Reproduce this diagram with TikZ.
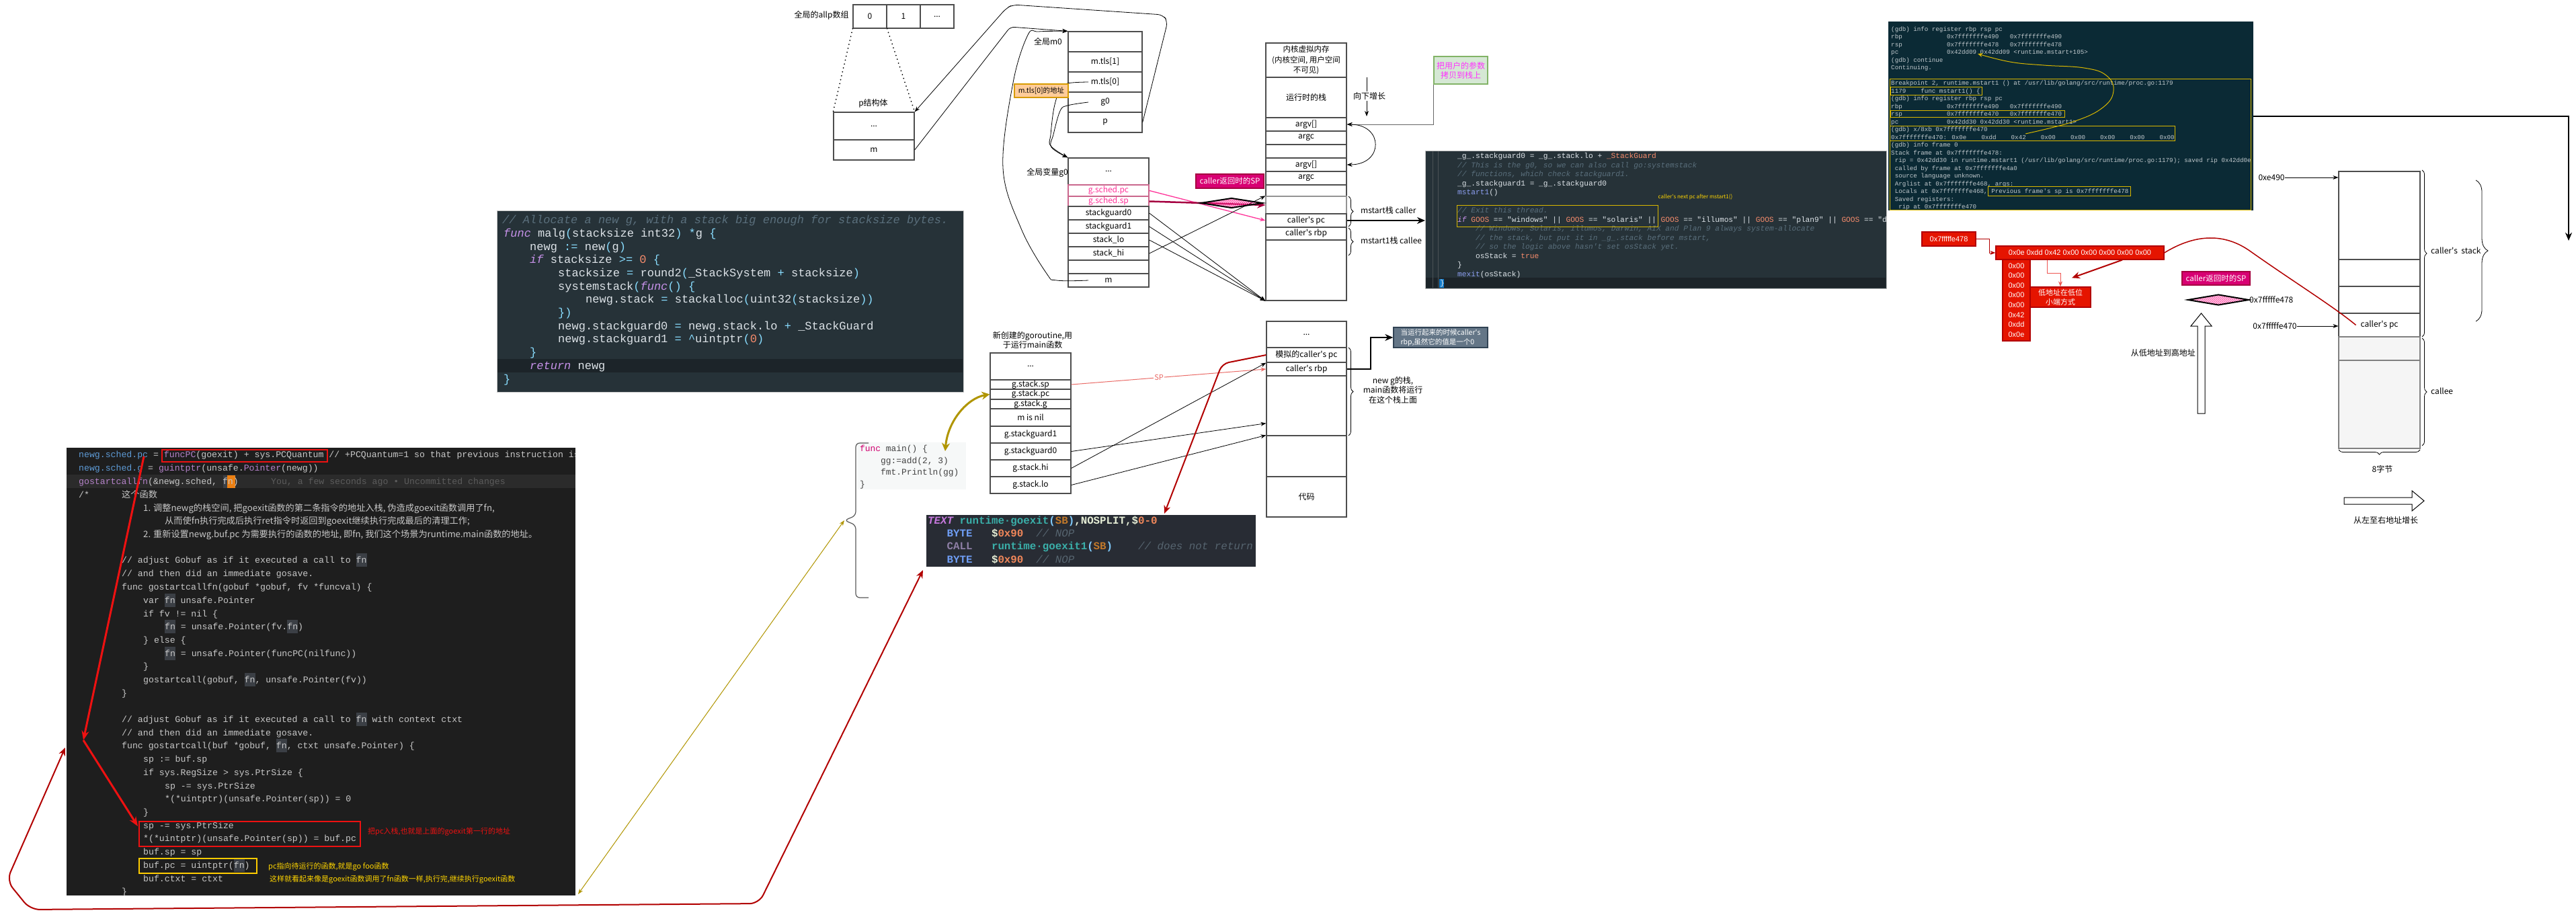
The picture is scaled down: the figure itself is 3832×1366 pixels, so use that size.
\documentclass[tikz,border=0pt]{standalone}
\usepackage{fontspec}
\setmainfont{Noto Sans CJK SC}
\newfontfamily\cjk{Noto Sans CJK SC}
\newfontfamily\codefont{Liberation Mono}
\newfontfamily\hsans{Liberation Sans}
\usetikzlibrary{shapes.geometric,decorations.pathreplacing,patterns,calc,arrows.meta}
\definecolor{cellgray}{HTML}{4D4D4D}
\definecolor{pinkA}{HTML}{FF3399}
\definecolor{magbox}{HTML}{D80073}
\definecolor{magdark}{HTML}{A50040}
\definecolor{darkred}{HTML}{B20000}
\definecolor{redbox}{HTML}{E51400}
\definecolor{brightred}{HTML}{EE1111}
\definecolor{olivec}{HTML}{B09500}
\definecolor{lightred}{HTML}{EA6B66}
\definecolor{orfill}{HTML}{FFCC99}
\definecolor{ordraw}{HTML}{D79B00}
\definecolor{grfill}{HTML}{D5E8D4}
\definecolor{grdraw}{HTML}{82B366}
\definecolor{greentx}{HTML}{FF33FF}
\definecolor{slatef}{HTML}{647687}
\definecolor{slated}{HTML}{314354}
\definecolor{matbg}{HTML}{263238}
\definecolor{matbg2}{HTML}{1C2429}
\definecolor{mtext}{HTML}{DDE3E8}
\definecolor{mcom}{HTML}{5A6F7C}
\definecolor{mpurp}{HTML}{C792EA}
\definecolor{mcyan}{HTML}{89DDFF}
\definecolor{morng}{HTML}{F78C6C}
\definecolor{mblue}{HTML}{8C9EF0}
\definecolor{termbg}{HTML}{0B2A35}
\definecolor{termfg}{HTML}{C0C8CC}
\definecolor{termyel}{HTML}{D9B700}
\definecolor{codebg}{HTML}{1E1E1E}
\definecolor{codehl}{HTML}{2B2B2B}
\definecolor{cfg}{HTML}{C8C8C8}
\definecolor{cblue}{HTML}{5E9BD6}
\definecolor{cpurp}{HTML}{B482C8}
\definecolor{cgray}{HTML}{5C5C5C}
\definecolor{fnhl}{HTML}{3B3F45}
\definecolor{atombg}{HTML}{282C34}
\definecolor{apurp}{HTML}{C678DD}
\definecolor{ateal}{HTML}{3AAFA9}
\definecolor{abrown}{HTML}{C0782A}
\definecolor{aparen}{HTML}{7FC8F8}
\definecolor{awhite}{HTML}{E6EED6}
\definecolor{aorng}{HTML}{F0875A}
\definecolor{ablue}{HTML}{6F9EF5}
\definecolor{acom}{HTML}{56646F}
\definecolor{acall}{HTML}{8E7FA6}
\definecolor{yelt}{HTML}{FFD500}
\definecolor{gfill}{HTML}{F5F5F5}
\definecolor{mainbg}{HTML}{F6F8F8}
\definecolor{mainfn}{HTML}{D0006F}
\definecolor{maintx}{HTML}{444444}
\tikzset{
  cellst/.style={draw=cellgray, line width=1.3pt, inner sep=0pt, align=center, font=\fontsize{12}{14}\selectfont},
  lbl/.style={inner sep=0pt, align=center, font=\fontsize{12}{14.5}\selectfont},
  arr/.style={-{Stealth[length=8pt,width=6pt]}},
  conn/.style={line width=0.8pt, -{Stealth[length=8pt,width=6pt]}},
  bigarr/.style={-{Stealth[length=12pt,width=10pt]}},
  bracest/.style={decorate, decoration={brace, amplitude=7pt}, line width=0.8pt},
  redlbl/.style={draw=darkred, fill=redbox, text=white, inner sep=0pt, align=center, font=\hsans\fontsize{11}{14.6}\selectfont},
  magbx/.style={draw=magdark, fill=magbox, text=white, inner sep=0pt, font=\fontsize{11.5}{14}\selectfont},
  diam/.style={shape=diamond, draw=black, line width=2pt, pattern=crosshatch, pattern color=pinkA, inner sep=0pt, minimum width=92pt, minimum height=15pt},
  ybox/.style={draw=termyel, line width=1pt},
  dotln/.style={line width=2pt, dash pattern=on 0pt off 6pt, line cap=round},
}
\newcommand\cell[7][]{\node[cellst,minimum width={(#5)-(#3)},minimum height={(#6)-(#4)},#1] (#2) at ({((#3)+(#5))/2},{((#4)+(#6))/2}) {#7};}
\newcommand\frm[6][]{\node[draw,inner sep=0pt,minimum width={(#5)-(#3)},minimum height={(#6)-(#4)},anchor=north west,#1] (#2) at (#3,#4) {};}
\newcounter{clc}
\newcommand\cln[3]{\stepcounter{clc}\node[anchor=base west,inner sep=0pt] (cl\arabic{clc}) at (#1,#2) {#3};}
\newcommand\tcol[2]{\textcolor{#1}{#2}}
\newcommand\fnh[1]{{\fboxsep=0pt\colorbox{fnhl}{\strut#1}}}
\newcommand\ap{\textquotesingle}
\begin{document}
\begin{tikzpicture}[x=1pt,y=-1pt]
\fill[white] (0,0) rectangle (3832,1366);
\useasboundingbox (0,0) rectangle (3832,1366);
% ---------------- allp / p ----------------
\node[lbl] (alabel) at (1222,23) {全局的allp数组};
\cell{a0}{1269}{7}{1319}{42}{0}
\cell{a1}{1319}{7}{1369}{42}{1}
\cell{a2}{1369}{7}{1419}{42}{...}
\node[lbl] (plabel) at (1299,154) {p结构体};
\cell{p1}{1240}{167}{1360}{208}{...}
\cell{p2}{1240}{208}{1360}{238}{m}
\draw[dotln] (a0.south west) -- (p1.north west);
\draw[dotln] (a0.south east) -- (p1.north east);
% ---------------- m0 ----------------
\node[lbl] (m0label) at (1559,62) {全局m0};
\cell{m0a}{1589}{47}{1699}{77}{}
\cell{m0b}{1589}{77}{1699}{107}{m.tls[1]}
\cell{m0c}{1589}{107}{1699}{137}{m.tls[0]}
\cell{m0d}{1589}{137}{1699}{167}{g0}
\cell{m0e}{1589}{167}{1699}{197}{p}
% ---------------- g0 ----------------
\node[lbl] (g0label) at (1558,257) {全局变量g0};
\cell{g0a}{1589}{235}{1709}{275}{...}
\cell[draw=magdark!60, text=pinkA]{g0b}{1589}{275}{1709}{292}{g.sched.pc}
\cell[draw=magdark!60, text=pinkA]{g0c}{1589}{292}{1709}{307}{g.sched.sp}
\cell{g0d}{1589}{307}{1709}{327}{stackguard0}
\cell{g0e}{1589}{327}{1709}{347}{stackguard1}
\cell{g0f}{1589}{347}{1709}{367}{stack\_lo}
\cell{g0g}{1589}{367}{1709}{387}{stack\_hi}
\cell{g0h}{1589}{387}{1709}{407}{}
\cell{g0i}{1589}{407}{1709}{427}{m}
% connectors among allp/m0/g0
\draw[conn, rounded corners=6pt] (p2.east) -- (1503,40) -- (m0a.north west);
\draw[conn, rounded corners=8pt] (m0e.east) -- (1737,32) -- (1730,22) -- (1507,7) -- (1497,12) -- (p1.north east);
\coordinate (c0) at ([xshift=-30pt]g0i.center);
\coordinate (c1) at ([xshift=-25pt]m0c.center);
\coordinate (c2) at ([xshift=-25pt]m0d.center);
\draw[conn] plot[smooth, tension=0.6] coordinates {(c0) (1572,417) (1557,407) (1519,340) (1492,250) (1507,123) (1529,52) (1545,47) (m0a.north west)};
\draw[conn] plot[smooth, tension=0.6] coordinates {(c1) (1588,124) (1577,133) (1568,160) (1563,200) (1563,217) (g0a.north west)};
\draw[conn] plot[smooth, tension=0.6] coordinates {(c2) (1588,157) (1577,165) (1567,200) (1564,219) (g0a.north west)};
\cell[draw=ordraw, fill=orfill, font=\fontsize{10.5}{12}\selectfont]{tls}{1509}{125}{1589}{145}{m.tls[0]的地址}
% ---------------- kernel stack ----------------
\cell[font=\fontsize{11.5}{15.5}\selectfont]{k0}{1883}{64}{2003}{115}{内核虚拟内存\\(内核空间, 用户空间\\不可见)}
\cell{k1}{1883}{115}{2003}{175}{运行时的栈}
\cell{k2}{1883}{175}{2003}{195}{argv[]}
\cell{k3}{1883}{195}{2003}{215}{argc}
\cell{k4}{1883}{215}{2003}{235}{}
\cell{k5}{1883}{235}{2003}{255}{argv[]}
\cell{k6}{1883}{255}{2003}{275}{argc}
\cell{k7}{1883}{275}{2003}{292}{}
\cell[draw=cellgray!60]{k8}{1883}{292}{2003}{318}{}
\cell{k9}{1883}{318}{2003}{338}{caller\ap s pc}
\cell{k10}{1883}{338}{2003}{357}{caller\ap s rbp}
\cell{k11}{1883}{357}{2003}{447}{}
\coordinate (gr1) at (2033,115);
\coordinate (gr2) at (2033,173);
\draw[conn] (gr1) -- (gr2);
\node[lbl, fill=white, inner sep=1pt] (grl) at (2037,143) {向下增长};
\cell[draw=grdraw, fill=grfill, text=greentx]{gbox}{2133}{84}{2213}{125}{把用户的参数\\拷贝到栈上}
\draw[conn, draw=gray!80!black] (gbox.south west) |- (k2.east);
\draw[line width=0.8pt, {Stealth[length=8pt,width=6pt]}-{Stealth[length=8pt,width=6pt]}] (k2.east) .. controls +(55,0) and +(55,0) .. (k5.east);
\cell[magbx]{sp1}{1779}{259}{1880}{280}{caller返回时的SP}
\draw[line width=1.3pt, pinkA, arr] (g0b.east) -- (k9.west);
\draw[line width=2.5pt, magdark, bigarr] (g0c.east) -- (k8.west);
\draw[conn] (g0g.east) -- (k8.north west);
\draw[conn] (g0d.east) -- (k11.south west);
\draw[conn] (g0e.east) -- (k11.south west);
\draw[conn] (g0f.east) -- (k11.south west);
\node[diam] (dia1) at (1832,302) {};
\draw[bracest] (2006,292) -- (2006,337);
\node[lbl, anchor=west, fill=white, inner sep=1pt] (mcl) at (2023,313) {mstart栈 caller};
\draw[bracest] (2006,339) -- (2006,380);
\node[lbl, anchor=west, fill=white, inner sep=1pt] (mcl2) at (2023,358) {mstart1栈 callee};
% ---------------- right code block ----------------
\node[fill=matbg, draw=gray!50, inner sep=0pt, minimum width=686, minimum height=205, anchor=north west] (rc) at (2120,224) {};
\fill[matbg2] (2121,413) rectangle (2805,428);
\draw[gray!40!matbg, line width=0.6pt] (2131,225) -- (2131,428);
\draw[gray!40!matbg, line width=0.6pt] (2139,225) -- (2139,428);
\fill[cyan!60!blue] (2141,415) rectangle (2148,428);
\draw[line width=2pt, bigarr] (k9.east) -- (k9.east -| rc.west);
\begin{scope}
\clip (2120,224) rectangle (2806,429);
\begin{scope}[nodes={font=\codefont\fontsize{11.2}{13.5}\selectfont, text=mtext}]
\cln{2168}{235}{\_g\_.stackguard0 = \_g\_.stack.lo + \tcol{morng}{\_StackGuard}}
\cln{2168}{249}{{\itshape\color{mcom}// This is the g0, so we can also call go:systemstack}}
\cln{2168}{262}{{\itshape\color{mcom}// functions, which check stackguard1.}}
\cln{2168}{276}{\_g\_.stackguard1 = \_g\_.stackguard0}
\cln{2168}{289}{\tcol{mblue}{mstart1}()}
\cln{2168}{316}{{\itshape\color{mcom}// Exit this thread.}}
\cln{2168}{330}{{\itshape\color{mpurp}if} \tcol{morng}{GOOS} == "windows" || \tcol{morng}{GOOS} == "solaris" || \tcol{morng}{GOOS} == "illumos" || \tcol{morng}{GOOS} == "plan9" || \tcol{morng}{GOOS} == "darwin"}
\cln{2195}{343}{{\itshape\color{mcom}// Windows, Solaris, illumos, Darwin, AIX and Plan 9 always system-allocate}}
\cln{2195}{357}{{\itshape\color{mcom}// the stack, but put it in \_g\_.stack before mstart,}}
\cln{2195}{370}{{\itshape\color{mcom}// so the logic above hasn\ap t set osStack yet.}}
\cln{2195}{384}{osStack = \tcol{morng}{true}}
\cln{2168}{397}{\}}
\cln{2168}{411}{\tcol{mblue}{mexit}(osStack)}
\cln{2142}{424}{\}}
\end{scope}
\end{scope}
\frm[ybox]{ybr}{2167}{305}{2466}{337}
\node[inner sep=0pt, text=yelt, font=\fontsize{8}{9}\selectfont] (nextpc) at (2522,293) {caller\ap s next pc after mstart1()};
% ---------------- terminal ----------------
\node[fill=termbg, inner sep=0pt, minimum width=543, minimum height=281, anchor=north west] (term) at (2809,32) {};
\begin{scope}
\clip (2809,32) rectangle (3352,313);
\begin{scope}[nodes={font=\codefont\fontsize{9.2}{11}\selectfont, text=termfg}]
\cln{2813}{46}{(gdb) info register rbp rsp pc}
\cln{2813}{57}{rbp~~~~~~~~~~~~0x7fffffffe490~~~0x7fffffffe490}
\cln{2813}{69}{rsp~~~~~~~~~~~~0x7fffffffe478~~~0x7fffffffe478}
\cln{2813}{80}{pc~~~~~~~~~~~~~0x42dd09 0x42dd09 <runtime.mstart+105>}
\cln{2813}{92}{(gdb) continue}
\cln{2813}{103}{Continuing.}
\cln{2813}{126}{Breakpoint 2, runtime.mstart1 () at /usr/lib/golang/src/runtime/proc.go:1179}
\cln{2813}{138}{1179~~~~func mstart1() \{}
\cln{2813}{149}{(gdb) info register rbp rsp pc}
\cln{2813}{161}{rbp~~~~~~~~~~~~0x7fffffffe490~~~0x7fffffffe490}
\cln{2813}{172}{rsp~~~~~~~~~~~~0x7fffffffe470~~~0x7fffffffe470}
\cln{2813}{184}{pc~~~~~~~~~~~~~0x42dd30 0x42dd30 <runtime.mstart1>}
\cln{2813}{195}{(gdb) x/8xb 0x7fffffffe470}
\cln{2813}{207}{0x7fffffffe470: 0x0e~~~~0xdd~~~~0x42~~~~0x00~~~~0x00~~~~0x00~~~~0x00~~~~0x00}
\cln{2813}{218}{(gdb) info frame 0}
\cln{2813}{230}{Stack frame at 0x7fffffffe478:}
\cln{2813}{241}{~rip = 0x42dd30 in runtime.mstart1 (/usr/lib/golang/src/runtime/proc.go:1179); saved rip 0x42dd0e}
\cln{2813}{253}{~called by frame at 0x7fffffffe4a0}
\cln{2813}{264}{~source language unknown.}
\cln{2813}{276}{~Arglist at 0x7fffffffe468, args:}
\cln{2813}{287}{~Locals at 0x7fffffffe468, Previous frame\ap s sp is 0x7fffffffe478}
\cln{2813}{299}{~Saved registers:}
\cln{2813}{310}{~~rip at 0x7fffffffe470}
\end{scope}
\end{scope}
\frm[ybox]{ty1}{2811}{117}{3348}{312}
\frm[ybox]{ty2}{2812}{129}{2948}{141}
\frm[ybox]{ty3}{2812}{164}{3071}{174}
\frm[ybox]{ty4}{2811}{187}{3235}{209}
\frm[ybox]{ty5}{2957}{277}{3169}{291}
\draw[termyel, line width=1pt, -{Stealth[length=7pt,width=6pt]}] plot[smooth, tension=0.7] coordinates {(3013,199) (3084,181) (3128,160) (3144,135) (3133,112) (3100,101) (3040,97) (2990,92) (2942,80)};
\coordinate (farend) at (3821,358);
\draw[line width=2pt, bigarr] (term.east) -| (farend);
% ---------------- red byte boxes ----------------
\cell[redlbl]{r1}{2859}{345}{2939}{366}{0x7fffffe478}
\cell[redlbl]{r2}{2969}{366}{3219}{386}{0x0e 0xdd 0x42 0x00 0x00 0x00 0x00 0x00}
\cell[redlbl]{r3}{2979}{386}{3020}{507}{0x00\\0x00\\0x00\\0x00\\0x00\\0x42\\0xdd\\0x0e}
\cell[redlbl, font=\fontsize{11}{14}\selectfont]{r4}{3020}{427}{3110}{457}{低地址在低位\\小端方式}
\draw[darkred, line width=1pt, arr] (r1.east) -- ++(20,0) |- (r2.west);
\draw[lightred!80!red, line width=1pt, arr] ([xshift=-49pt]r2.south) -- ++(0,20) -| (r4.north);
\draw[darkred, line width=2pt, bigarr] ([xshift=63pt]r2.south) -- ($(r4.north)+(17,-13)$);
% ---------------- right stack ----------------
\cell{rs1}{3479}{255}{3600}{386}{}
\cell{rs2}{3479}{386}{3600}{426}{}
\cell{rs3}{3479}{426}{3600}{466}{}
\cell{rs4}{3479}{466}{3600}{501}{caller\ap s pc}
\cell[fill=gfill, draw=gray]{rs5}{3479}{501}{3600}{536}{}
\cell[fill=gfill, draw=gray]{rs6}{3479}{536}{3600}{667}{}
\draw[darkred, line width=1.5pt] (r2.east) .. controls (3262,350) and (3305,345) .. (3345,372) .. controls (3410,418) and (3470,455) .. ([xshift=-35pt]rs4.center);
\node[lbl] (e490) at (3379,264) {0xe490};
\draw[conn] (e490.east) -- (e490.east -| rs1.west);
\node[lbl] (e470) at (3384,485) {0x7fffffe470};
\draw[conn] (e470.east) -- (e470.east -| rs4.west);
\node[diam, minimum width=91pt, minimum height=16pt] (dia2) at (3300,446) {};
\node[lbl, anchor=west] (e478) at (3346,446) {0x7fffffe478};
\cell[magbx]{sp2}{3246}{404}{3347}{424}{caller返回时的SP}
\draw[fill=white, line width=1pt] (3269,615) -- (3269,485) -- (3259,485) -- (3274.5,466) -- (3290,485) -- (3280,485) -- (3280,615) -- cycle;
\node[lbl, anchor=east] (lowhigh) at (3266,525) {从低地址到高地址};
\draw[bracest] (3603,253) -- (3603,501);
\node[lbl, anchor=west] (cstack) at (3616,373) {caller\ap s\ \ stack};
\draw[bracest, decoration={brace, amplitude=18pt}] (3683,268) -- (3683,478);
\draw[bracest] (3603,503) -- (3603,663);
\node[lbl, anchor=west] (callee) at (3616,582) {callee};
\draw[bracest] (3600,669) -- (3479,669);
\node[lbl] (eightb) at (3544,698) {8字节};
\draw[fill=white, line width=1pt] (3487,740) -- (3588,740) -- (3588,730) -- (3606,745) -- (3588,760) -- (3588,750) -- (3487,750) -- cycle;
\node[lbl] (l2r) at (3549,774) {从左至右地址增长};
% ---------------- malg code ----------------
\node[fill=matbg, draw=gray!40, inner sep=0pt, minimum width=694, minimum height=270, anchor=north west] (mb) at (739,313) {};
\fill[matbg2] (740,534) rectangle (1432,554);
\begin{scope}[nodes={font=\codefont\fontsize{17}{20}\selectfont, text=mtext}]
\cln{747}{332}{{\itshape\color{mcom}// Allocate a new g, with a stack big enough for stacksize bytes.}}
\cln{749}{352}{{\itshape\color{mpurp}func} malg\tcol{mcyan}{(}stacksize int32\tcol{mcyan}{)} \tcol{mcyan}{*}g \tcol{mcyan}{\{}}
\cln{788}{372}{newg \tcol{mcyan}{:=} new\tcol{mcyan}{(}g\tcol{mcyan}{)}}
\cln{788}{391}{{\itshape\color{mpurp}if} stacksize \tcol{mcyan}{>=} \tcol{morng}{0} \tcol{mcyan}{\{}}
\cln{830}{411}{stacksize \tcol{mcyan}{=} round2\tcol{mcyan}{(}\_StackSystem \tcol{mcyan}{+} stacksize\tcol{mcyan}{)}}
\cln{830}{431}{systemstack\tcol{mcyan}{(}{\itshape\color{mpurp}func}\tcol{mcyan}{() \{}}
\cln{871}{450}{newg.stack \tcol{mcyan}{=} stackalloc\tcol{mcyan}{(}uint32\tcol{mcyan}{(}stacksize\tcol{mcyan}{))}}
\cln{830}{470}{\tcol{mcyan}{\})}}
\cln{830}{490}{newg.stackguard0 \tcol{mcyan}{=} newg.stack.lo \tcol{mcyan}{+} \_StackGuard}
\cln{830}{509}{newg.stackguard1 \tcol{mcyan}{=} \tcol{mcyan}{\textasciicircum}uintptr\tcol{mcyan}{(}\tcol{morng}{0}\tcol{mcyan}{)}}
\cln{788}{529}{\tcol{mcyan}{\}}}
\cln{788}{549}{{\itshape\color{mpurp}return} newg}
\cln{749}{569}{\tcol{mcyan}{\}}}
\end{scope}
% ---------------- newg / new stack ----------------
\node[lbl] (nglabel) at (1536,506) {新创建的goroutine,用\\于运行main函数};
\cell{n1}{1473}{525}{1593}{565}{...}
\cell{n2}{1473}{565}{1593}{579}{g.stack.sp}
\cell{n3}{1473}{579}{1593}{594}{g.stack.pc}
\cell{n4}{1473}{594}{1593}{608}{g.stack.g}
\cell{n5}{1473}{608}{1593}{634}{m is nil}
\cell{n6}{1473}{634}{1593}{659}{g.stackguard1}
\cell{n7}{1473}{659}{1593}{684}{g.stackguard0}
\cell{n8}{1473}{684}{1593}{709}{g.stack.hi}
\cell{n9}{1473}{709}{1593}{734}{g.stack.lo}
\cell{s1}{1884}{478}{2003}{517}{...}
\cell{s2}{1884}{517}{2003}{539}{模拟的caller\ap s pc}
\cell{s3}{1884}{539}{2003}{559}{caller\ap s rbp}
\cell{s4}{1884}{559}{2003}{648}{}
\cell{s5}{1884}{648}{2003}{709}{}
\cell{s6}{1884}{709}{2003}{769}{代码}
\draw[bracest] (2006,517) -- (2006,648);
\node[lbl, fill=white, inner sep=1pt] (newgl) at (2072,580) {new g的栈,\\main函数将运行\\在这个栈上面};
\cell[draw=slated, fill=slatef, text=white, align=left, font=\fontsize{10.5}{14}\selectfont]{gb}{2073}{487}{2213}{517}{当运行起来的时候caller\ap s\\rbp,虽然它的值是一个0}
\draw[line width=2pt, bigarr] (s3.east) -- ++(35,0) |- (gb.west);
\draw[lightred, line width=1pt, arr] (n2.east) -- node[pos=0.45, fill=white, inner sep=1pt, text=lightred, font=\fontsize{11}{12}\selectfont] (splbl) {SP} (s3.west);
\draw[conn] (n8.east) -- (s2.south west);
\draw[conn] (n7.east) -- ($(s4.south west)+(0,-19)$);
\draw[conn] (n9.east) -- (s5.north west);
% ---------------- main code ----------------
\node[fill=mainbg, inner sep=0pt, minimum width=162, minimum height=70, anchor=north west] (mc) at (1275,658) {};
\begin{scope}[nodes={font=\codefont\fontsize{12.9}{15}\selectfont, text=maintx}]
\cln{1279}{671}{\tcol{mainfn}{func} main() \{}
\cln{1310}{689}{gg:=add(2, 3)}
\cln{1310}{706}{fmt.Println(gg)}
\cln{1279}{724}{\}}
\end{scope}
\coordinate (mainarr) at (1406,671);
\draw[olivec, line width=3pt, {Stealth[length=12pt,width=12pt]}-{Stealth[length=12pt,width=12pt]}] (n3.west) .. controls (1440,592) and (1410,625) .. (mainarr);
\draw[line width=1.2pt, draw=gray!70!black, rounded corners=6pt] (1292,659) -- (1273,659) -- (1273,767) -- (1256,774) -- (1273,781) -- (1273,889) -- (1292,889);
% ---------------- goexit code ----------------
\node[fill=atombg, inner sep=0pt, minimum width=490, minimum height=77, anchor=north west] (gx) at (1378,766) {};
\begin{scope}
\clip (1378,766) rectangle (1868,843);
\begin{scope}[nodes={font=\codefont\bfseries\fontsize{15.8}{19}\selectfont, text=awhite}]
\cln{1380}{779}{{\itshape\color{apurp}TEXT} \tcol{ateal}{runtime·goexit}\tcol{aparen}{(}\tcol{abrown}{SB}\tcol{aparen}{)},NOSPLIT,\$\tcol{aorng}{0-0}}
\cln{1380}{798}{~~~\tcol{ablue}{BYTE}~~~\$\tcol{aorng}{0x90}~~{\mdseries\itshape\color{acom}// NOP}}
\cln{1380}{817}{~~~\tcol{acall}{CALL}~~~\tcol{ateal}{runtime·goexit1}\tcol{aparen}{(}\tcol{abrown}{SB}\tcol{aparen}{)}~~~~{\mdseries\itshape\color{acom}// does not return}}
\cln{1380}{837}{~~~\tcol{ablue}{BYTE}~~~\$\tcol{aorng}{0x90}~~{\mdseries\itshape\color{acom}// NOP}}
\end{scope}
\end{scope}
\coordinate (gxin) at (1732,764);
\draw[darkred, line width=2pt, rounded corners=10pt, bigarr] (s2.west) -- (1818,541) -- (gxin);
% ---------------- big code block ----------------
\node[fill=codebg, inner sep=0pt, minimum width=757, minimum height=666, anchor=north west] (bc) at (99,666) {};
\fill[codehl] (99,706) rectangle (856,726);
\fill[fnhl] (332,707) rectangle (338,726);
\fill[orange!70!brown] (338,707) rectangle (350,726);
\begin{scope}
\clip (99,666) rectangle (856,1332);
\begin{scope}[nodes={font=\codefont\fontsize{13.2}{19.7}\selectfont, text=cfg}]
\cln{117}{680}{\tcol{cblue}{newg.sched.pc} = \tcol{cpurp}{funcPC}(goexit) + sys.PCQuantum // +PCQuantum=1 so that previous instruction is in same function}
\cln{117}{700}{\tcol{cblue}{newg.sched.g} = \tcol{cpurp}{guintptr}(unsafe.\tcol{cpurp}{Pointer}(newg))}
\cln{117}{720}{\tcol{cpurp}{gostartcallfn}(\&newg.sched, fn)}
\cln{403}{720}{\tcol{cgray}{You, a few seconds ago • Uncommitted changes}}
\cln{117}{740}{/*}
\cln{181}{740}{\cjk 这个函数}
\cln{213}{760}{\cjk 1. 调整newg的栈空间, 把goexit函数的第二条指令的地址入栈, 伪造成goexit函数调用了fn,}
\cln{245}{779}{\cjk 从而使fn执行完成后执行ret指令时返回到goexit继续执行完成最后的清理工作;}
\cln{213}{799}{\cjk 2. 重新设置newg.buf.pc 为需要执行的函数的地址, 即fn, 我们这个场景为runtime.main函数的地址。}
\cln{181}{837}{// adjust Gobuf as if it executed a call to \fnh{fn}}
\cln{181}{857}{// and then did an immediate gosave.}
\cln{181}{877}{func gostartcallfn(gobuf *gobuf, fv *funcval) \{}
\cln{213}{897}{var \fnh{fn} unsafe.Pointer}
\cln{213}{917}{if fv != nil \{}
\cln{245}{936}{\fnh{fn} = unsafe.Pointer(fv.\fnh{fn})}
\cln{213}{956}{\} else \{}
\cln{245}{976}{\fnh{fn} = unsafe.Pointer(funcPC(nilfunc))}
\cln{213}{995}{\}}
\cln{213}{1015}{gostartcall(gobuf, \fnh{fn}, unsafe.Pointer(fv))}
\cln{181}{1035}{\}}
\cln{181}{1074}{// adjust Gobuf as if it executed a call to \fnh{fn} with context ctxt}
\cln{181}{1094}{// and then did an immediate gosave.}
\cln{181}{1113}{func gostartcall(buf *gobuf, \fnh{fn}, ctxt unsafe.Pointer) \{}
\cln{213}{1133}{sp := buf.sp}
\cln{213}{1153}{if sys.RegSize > sys.PtrSize \{}
\cln{245}{1173}{sp -= sys.PtrSize}
\cln{245}{1192}{*(*uintptr)(unsafe.Pointer(sp)) = 0}
\cln{213}{1212}{\}}
\cln{213}{1232}{sp -= sys.PtrSize}
\cln{213}{1251}{*(*uintptr)(unsafe.Pointer(sp)) = buf.pc}
\cln{213}{1271}{buf.sp = sp}
\cln{213}{1291}{buf.pc = uintptr(\fnh{fn})}
\cln{213}{1311}{buf.ctxt = ctxt}
\cln{181}{1330}{\}}
\end{scope}
\end{scope}
\frm[draw=brightred, line width=1.5pt]{rbx1}{240}{668}{486}{686}
\frm[draw=brightred, line width=1.5pt]{rbx2}{206}{1221}{535}{1258}
\frm[draw=yelt!90!orange, line width=1.5pt]{ybx2}{206}{1276}{381}{1298}
\node[lbl, anchor=west, text=brightred, font=\fontsize{11}{12}\selectfont] (pcin) at (547,1237) {把pc入栈,也就是上面的goexit第一行的地址};
\node[lbl, anchor=west, text=yelt, font=\fontsize{11}{12}\selectfont] (pcto) at (399,1289) {pc指向待运行的函数,就是go foo函数};
\node[lbl, anchor=west, text=yelt, font=\fontsize{11}{12}\selectfont] (looks) at (401,1308) {这样就看起来像是goexit函数调用了fn函数一样,执行完,继续执行goexit函数};
\coordinate (ra1) at (214,679);
\coordinate (ra2) at (124,1101);
\coordinate (ra3) at (205,1229);
\draw[brightred, line width=3pt, -{Stealth[length=14pt,width=11pt]}] (ra1) -- (ra2);
\draw[brightred, line width=3pt, -{Stealth[length=14pt,width=11pt]}] (ra2) -- (ra3);
% ---------------- long connectors ----------------
\coordinate (btip) at (1256,774);
\coordinate (bcode) at (860,1330);
\draw[olivec, line width=1pt, {Stealth[length=8pt,width=6pt]}-{Stealth[length=8pt,width=6pt]}] (btip) -- (bcode);
\coordinate (lr1) at (1373,848);
\coordinate (lr2) at (97,1112);
\draw[darkred, line width=2pt, rounded corners=14pt, {Stealth[length=12pt,width=10pt]}-{Stealth[length=12pt,width=10pt]}] (lr1) -- (1129,1344) -- (45,1353) -- (10,1310) -- (lr2);
\end{tikzpicture}
\end{document}
